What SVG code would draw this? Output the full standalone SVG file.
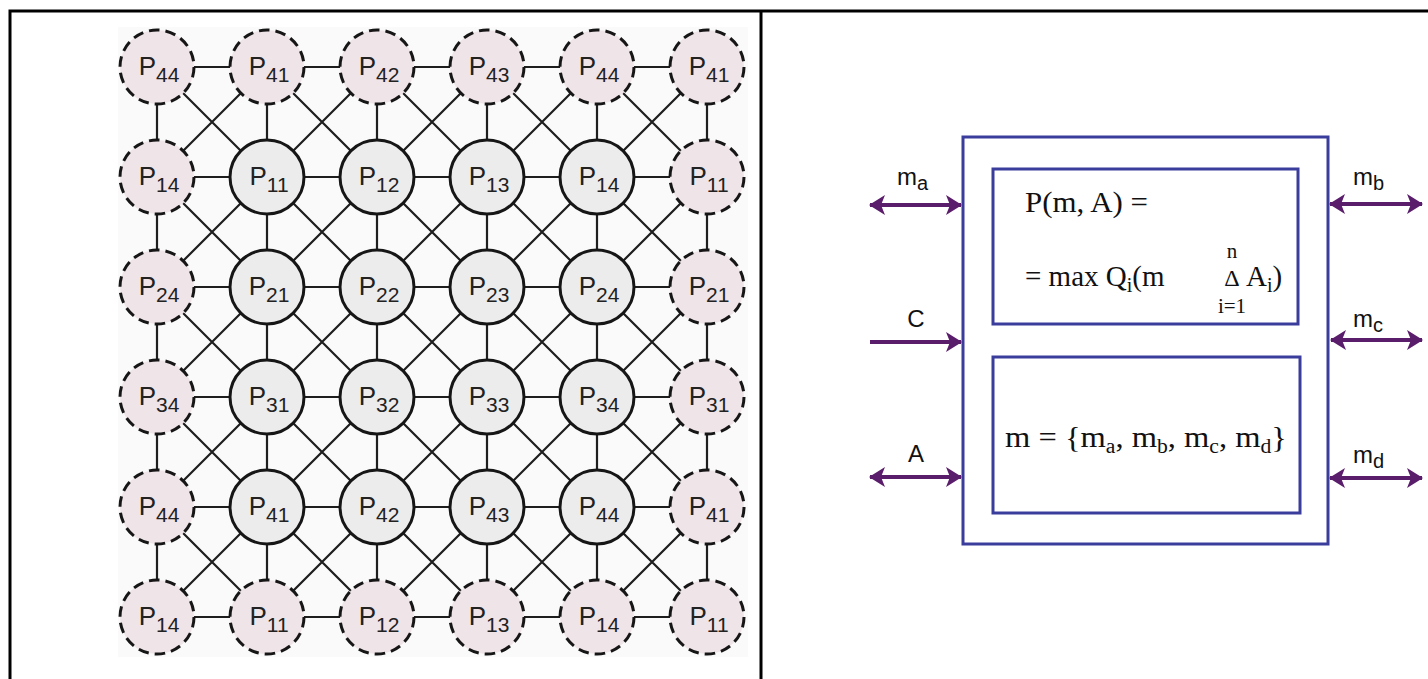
<svg xmlns="http://www.w3.org/2000/svg" width="1428" height="679" viewBox="0 0 1428 679">
<style>
.frame{stroke:#000;stroke-width:3;fill:none}
.edge{stroke:#1e1e1e;stroke-width:2.2;fill:none}
.n circle{stroke:#161616;stroke-width:3}
.in circle{fill:#ececec}
.bd circle{fill:#efe4e8;stroke-dasharray:10.6 6}
.n text{font-family:"Liberation Sans",Arial,sans-serif;font-size:26px;fill:#222;text-anchor:middle}
.n .s{font-size:21px}
.box{fill:none;stroke:#3b3d9c;stroke-width:3}
.arr{stroke:#5a1d6b;stroke-width:4;fill:none}
.lab{font-family:"Liberation Sans",Arial,sans-serif;font-size:24px;fill:#111}
.lab .s{font-size:20px}
.eq{font-family:"Liberation Serif","Times New Roman",serif;font-size:29px;fill:#111}
.eq .s{font-size:20px}
</style>
<defs>
<marker id="ah" viewBox="0 0 16 20" refX="15" refY="10" markerWidth="16" markerHeight="20" markerUnits="userSpaceOnUse" orient="auto-start-reverse">
<path d="M0 0L16 10L0 20L4 10Z" fill="#5a1d6b"/>
</marker>
</defs>
<rect width="1428" height="679" fill="#fff"/>
<path class="frame" d="M10 679V11H1428M761 11V679"/>
<rect x="118" y="27" width="630" height="630" fill="#fafafa"/>
<g id="connectors">
<path class="edge" d="M157 67H707M157 177H707M157 287H707M157 397H707M157 507H707M157 617H707M157 67V617M267 67V617M377 67V617M487 67V617M597 67V617M707 67V617"/>
<path class="edge" d="M157 67L707 617M267 67L707 507M377 67L707 397M487 67L707 287M597 67L707 177M157 177L597 617M157 287L487 617M157 397L377 617M157 507L267 617M707 67L157 617M597 67L157 507M487 67L157 397M377 67L157 287M267 67L157 177M707 177L267 617M707 287L377 617M707 397L487 617M707 507L597 617"/>
</g>
<g id="node-r0c0" class="n bd"><circle cx="157" cy="67" r="37"/><text x="159" y="75">P<tspan class="s" dy="7">44</tspan></text></g>
<g id="node-r0c1" class="n bd"><circle cx="267" cy="67" r="37"/><text x="269" y="75">P<tspan class="s" dy="7">41</tspan></text></g>
<g id="node-r0c2" class="n bd"><circle cx="377" cy="67" r="37"/><text x="379" y="75">P<tspan class="s" dy="7">42</tspan></text></g>
<g id="node-r0c3" class="n bd"><circle cx="487" cy="67" r="37"/><text x="489" y="75">P<tspan class="s" dy="7">43</tspan></text></g>
<g id="node-r0c4" class="n bd"><circle cx="597" cy="67" r="37"/><text x="599" y="75">P<tspan class="s" dy="7">44</tspan></text></g>
<g id="node-r0c5" class="n bd"><circle cx="707" cy="67" r="37"/><text x="709" y="75">P<tspan class="s" dy="7">41</tspan></text></g>
<g id="node-r1c0" class="n bd"><circle cx="157" cy="177" r="37"/><text x="159" y="185">P<tspan class="s" dy="7">14</tspan></text></g>
<g id="node-r1c1" class="n in"><circle cx="267" cy="177" r="37"/><text x="269" y="185">P<tspan class="s" dy="7">11</tspan></text></g>
<g id="node-r1c2" class="n in"><circle cx="377" cy="177" r="37"/><text x="379" y="185">P<tspan class="s" dy="7">12</tspan></text></g>
<g id="node-r1c3" class="n in"><circle cx="487" cy="177" r="37"/><text x="489" y="185">P<tspan class="s" dy="7">13</tspan></text></g>
<g id="node-r1c4" class="n in"><circle cx="597" cy="177" r="37"/><text x="599" y="185">P<tspan class="s" dy="7">14</tspan></text></g>
<g id="node-r1c5" class="n bd"><circle cx="707" cy="177" r="37"/><text x="709" y="185">P<tspan class="s" dy="7">11</tspan></text></g>
<g id="node-r2c0" class="n bd"><circle cx="157" cy="287" r="37"/><text x="159" y="295">P<tspan class="s" dy="7">24</tspan></text></g>
<g id="node-r2c1" class="n in"><circle cx="267" cy="287" r="37"/><text x="269" y="295">P<tspan class="s" dy="7">21</tspan></text></g>
<g id="node-r2c2" class="n in"><circle cx="377" cy="287" r="37"/><text x="379" y="295">P<tspan class="s" dy="7">22</tspan></text></g>
<g id="node-r2c3" class="n in"><circle cx="487" cy="287" r="37"/><text x="489" y="295">P<tspan class="s" dy="7">23</tspan></text></g>
<g id="node-r2c4" class="n in"><circle cx="597" cy="287" r="37"/><text x="599" y="295">P<tspan class="s" dy="7">24</tspan></text></g>
<g id="node-r2c5" class="n bd"><circle cx="707" cy="287" r="37"/><text x="709" y="295">P<tspan class="s" dy="7">21</tspan></text></g>
<g id="node-r3c0" class="n bd"><circle cx="157" cy="397" r="37"/><text x="159" y="405">P<tspan class="s" dy="7">34</tspan></text></g>
<g id="node-r3c1" class="n in"><circle cx="267" cy="397" r="37"/><text x="269" y="405">P<tspan class="s" dy="7">31</tspan></text></g>
<g id="node-r3c2" class="n in"><circle cx="377" cy="397" r="37"/><text x="379" y="405">P<tspan class="s" dy="7">32</tspan></text></g>
<g id="node-r3c3" class="n in"><circle cx="487" cy="397" r="37"/><text x="489" y="405">P<tspan class="s" dy="7">33</tspan></text></g>
<g id="node-r3c4" class="n in"><circle cx="597" cy="397" r="37"/><text x="599" y="405">P<tspan class="s" dy="7">34</tspan></text></g>
<g id="node-r3c5" class="n bd"><circle cx="707" cy="397" r="37"/><text x="709" y="405">P<tspan class="s" dy="7">31</tspan></text></g>
<g id="node-r4c0" class="n bd"><circle cx="157" cy="507" r="37"/><text x="159" y="515">P<tspan class="s" dy="7">44</tspan></text></g>
<g id="node-r4c1" class="n in"><circle cx="267" cy="507" r="37"/><text x="269" y="515">P<tspan class="s" dy="7">41</tspan></text></g>
<g id="node-r4c2" class="n in"><circle cx="377" cy="507" r="37"/><text x="379" y="515">P<tspan class="s" dy="7">42</tspan></text></g>
<g id="node-r4c3" class="n in"><circle cx="487" cy="507" r="37"/><text x="489" y="515">P<tspan class="s" dy="7">43</tspan></text></g>
<g id="node-r4c4" class="n in"><circle cx="597" cy="507" r="37"/><text x="599" y="515">P<tspan class="s" dy="7">44</tspan></text></g>
<g id="node-r4c5" class="n bd"><circle cx="707" cy="507" r="37"/><text x="709" y="515">P<tspan class="s" dy="7">41</tspan></text></g>
<g id="node-r5c0" class="n bd"><circle cx="157" cy="617" r="37"/><text x="159" y="625">P<tspan class="s" dy="7">14</tspan></text></g>
<g id="node-r5c1" class="n bd"><circle cx="267" cy="617" r="37"/><text x="269" y="625">P<tspan class="s" dy="7">11</tspan></text></g>
<g id="node-r5c2" class="n bd"><circle cx="377" cy="617" r="37"/><text x="379" y="625">P<tspan class="s" dy="7">12</tspan></text></g>
<g id="node-r5c3" class="n bd"><circle cx="487" cy="617" r="37"/><text x="489" y="625">P<tspan class="s" dy="7">13</tspan></text></g>
<g id="node-r5c4" class="n bd"><circle cx="597" cy="617" r="37"/><text x="599" y="625">P<tspan class="s" dy="7">14</tspan></text></g>
<g id="node-r5c5" class="n bd"><circle cx="707" cy="617" r="37"/><text x="709" y="625">P<tspan class="s" dy="7">11</tspan></text></g>

<g id="block">
<rect class="box" x="963" y="137" width="365" height="407"/>
</g>
<g id="formula-box">
<rect class="box" x="993" y="169" width="305" height="155"/>
<text class="eq" x="1025" y="212" textLength="123" lengthAdjust="spacingAndGlyphs">P(m, A) =</text>
<text class="eq" x="1025" y="286">= max Q<tspan class="s" dy="6">i</tspan><tspan dy="-6">(m</tspan></text>
<text class="eq" x="1232" y="258" text-anchor="middle" style="font-size:21px">n</text>
<text class="eq" x="1232" y="286" text-anchor="middle" style="font-size:24px">Δ</text>
<text class="eq" x="1232" y="313" text-anchor="middle" style="font-size:21px">i=1</text>
<text class="eq" x="1246" y="286">A<tspan class="s" dy="6">i</tspan><tspan dy="-6">)</tspan></text>
</g>
<g id="set-box">
<rect class="box" x="993" y="357" width="307" height="156"/>
<text class="eq" x="1005" y="447" textLength="282" lengthAdjust="spacingAndGlyphs" style="font-size:30px">m = {m<tspan class="s" dy="6">a</tspan><tspan dy="-6">, m</tspan><tspan class="s" dy="6">b</tspan><tspan dy="-6">, m</tspan><tspan class="s" dy="6">c</tspan><tspan dy="-6">, m</tspan><tspan class="s" dy="6">d</tspan><tspan dy="-6">}</tspan></text>
</g>
<g id="connectors-io">
<line class="arr" x1="870" y1="205" x2="961" y2="205" marker-start="url(#ah)" marker-end="url(#ah)"/>
<line class="arr" x1="870" y1="342" x2="961" y2="342" marker-end="url(#ah)"/>
<line class="arr" x1="870" y1="477" x2="961" y2="477" marker-start="url(#ah)" marker-end="url(#ah)"/>
<line class="arr" x1="1330" y1="204" x2="1422" y2="204" marker-start="url(#ah)" marker-end="url(#ah)"/>
<line class="arr" x1="1331" y1="340" x2="1422" y2="340" marker-start="url(#ah)" marker-end="url(#ah)"/>
<line class="arr" x1="1330" y1="478" x2="1422" y2="478" marker-start="url(#ah)" marker-end="url(#ah)"/>
</g>
<g id="io-labels">
<text class="lab" x="897" y="185">m<tspan class="s" dy="5">a</tspan></text>
<text class="lab" x="916" y="327" text-anchor="middle">C</text>
<text class="lab" x="916" y="462" text-anchor="middle">A</text>
<text class="lab" x="1353" y="185">m<tspan class="s" dy="5">b</tspan></text>
<text class="lab" x="1353" y="327">m<tspan class="s" dy="5">c</tspan></text>
<text class="lab" x="1353" y="463">m<tspan class="s" dy="5">d</tspan></text>
</g>
</svg>
